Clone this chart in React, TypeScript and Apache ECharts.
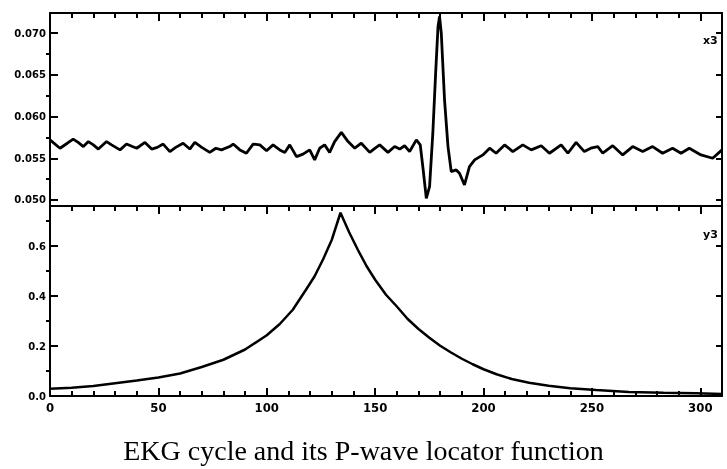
import React, { useEffect, useRef } from "react";
import * as echarts from "echarts";

// EKG cycle (top panel)
const ekgX = [0, 4.6, 8, 10.7, 13, 15.4, 17.7, 20, 22.3, 26.1, 28.4, 32.3, 35.3, 38, 40, 43.8, 46.9, 49.5, 52.2, 55.3, 58, 61.4, 64.5, 66.8, 70, 73.7, 76.5, 79.1, 82.9, 84.5, 87.6, 90.6, 93.7, 96.8, 99.9, 102.9, 106, 108.3, 110.6, 113.7, 116.7, 119.8, 122.1, 124.4, 126.7, 129, 131.3, 134.4, 137.5, 140.6, 143.6, 147.5, 150, 152.1, 155.9, 159, 161.3, 163.6, 165.9, 169, 170.8, 172.2, 173.6, 175.1, 176.6, 177.9, 179, 179.7, 180.5, 182, 183.6, 185.1, 187.4, 188.9, 191.2, 193.5, 195.9, 199.7, 202.8, 205.8, 209.7, 213.5, 218.1, 222, 226.6, 230.4, 235.8, 238.9, 242.7, 246.5, 249.5, 252.7, 255, 259.6, 264.2, 268.8, 273.4, 278, 282.6, 287.2, 291.1, 294.9, 300.3, 305.7, 310];
const ekgY = [0.0572, 0.0562, 0.0568, 0.0573, 0.0569, 0.0564, 0.057, 0.0566, 0.0561, 0.057, 0.0566, 0.056, 0.0567, 0.0564, 0.0562, 0.0569, 0.0561, 0.0563, 0.0567, 0.0558, 0.0563, 0.0568, 0.0561, 0.0569, 0.0563, 0.0557, 0.0562, 0.056, 0.0564, 0.0567, 0.056, 0.0556, 0.0567, 0.0566, 0.0559, 0.0566, 0.056, 0.0557, 0.0566, 0.0552, 0.0555, 0.056, 0.0548, 0.0562, 0.0566, 0.0557, 0.057, 0.0581, 0.057, 0.0562, 0.0568, 0.0557, 0.0562, 0.0566, 0.0557, 0.0564, 0.0561, 0.0565, 0.0558, 0.0572, 0.0566, 0.0535, 0.0502, 0.0516, 0.058, 0.0652, 0.0708, 0.072, 0.07, 0.062, 0.0564, 0.0534, 0.0536, 0.0532, 0.0518, 0.054, 0.0548, 0.0554, 0.0562, 0.0556, 0.0566, 0.0558, 0.0566, 0.056, 0.0565, 0.0556, 0.0566, 0.0556, 0.0569, 0.0558, 0.0562, 0.0564, 0.0556, 0.0565, 0.0554, 0.0564, 0.0558, 0.0564, 0.0556, 0.0562, 0.0556, 0.0562, 0.0554, 0.055, 0.056];

// P-wave locator function (bottom panel)
const locX = [0, 10, 20, 30, 40, 50, 60, 70, 80, 90, 100, 106, 112, 118, 122, 126, 130, 134, 138, 142, 146, 150, 155, 160, 165, 170, 175, 180, 185, 190, 195, 200, 206, 213, 221, 230, 240, 252, 267, 283, 298, 310];
const locY = [0.029, 0.033, 0.04, 0.051, 0.062, 0.074, 0.09, 0.116, 0.145, 0.186, 0.243, 0.288, 0.345, 0.424, 0.478, 0.547, 0.625, 0.733, 0.655, 0.585, 0.52, 0.465, 0.405, 0.358, 0.308, 0.268, 0.233, 0.201, 0.174, 0.149, 0.127, 0.107, 0.087, 0.068, 0.053, 0.041, 0.031, 0.024, 0.016, 0.013, 0.011, 0.008];

const xTickLabels = [0, 50, 100, 150, 200, 250, 300];
const topTicks = [0.05, 0.055, 0.06, 0.065, 0.07];
const topMinorTicks = [0.0525, 0.0575, 0.0625, 0.0675];
const bottomTicks = [0, 0.2, 0.4, 0.6];
const bottomMinorTicks = [0.1, 0.3, 0.5, 0.7];
const title = "EKG cycle and its P-wave locator function";
const topScaleNote = "x3";
const bottomScaleNote = "y3";

const X_MIN = 0;
const X_MAX = 310;

export default function App() {
  const ref = useRef<HTMLDivElement>(null);
  useEffect(() => {
    if (!ref.current) return;
    const chart = echarts.init(ref.current, null, { renderer: "svg" });
    const black = "#000";
    const yLabelFont = {
      fontFamily: "'DejaVu Sans', sans-serif",
      fontWeight: "bold" as const,
      fontSize: 10,
      color: black,
    };
    const xLabelFont = {
      fontFamily: "'Liberation Sans Narrow', 'DejaVu Sans Condensed', sans-serif",
      fontWeight: "bold" as const,
      fontSize: 13,
      color: black,
    };
    const noSplit = { splitLine: { show: false }, minorSplitLine: { show: false } };
    const tickStyle = { color: black, width: 2 };
    const option: any = {
      animation: false,
      title: {
        text: title,
        left: "center",
        top: 431,
        textStyle: {
          fontFamily: "'Liberation Serif', 'Times New Roman', serif",
          fontWeight: "normal",
          fontSize: 28,
          color: black,
        },
      },
      grid: [
        { left: 50, right: 5, top: 13, height: 193 },
        { left: 50, right: 5, top: 206, height: 190 },
      ],
      xAxis: [
        {
          type: "value", gridIndex: 0, position: "top", min: X_MIN, max: X_MAX, interval: 50,
          axisLine: { show: true, onZero: false, lineStyle: { color: black, width: 2 } },
          axisTick: { show: true, inside: true, length: 8, lineStyle: tickStyle },
          minorTick: { show: true, splitNumber: 5, length: 5, lineStyle: tickStyle },
          axisLabel: { show: false },
          ...noSplit,
        },
        {
          type: "value", gridIndex: 0, min: X_MIN, max: X_MAX, interval: 50,
          axisLine: { show: true, onZero: false, lineStyle: { color: black, width: 2 } },
          axisTick: { show: false },
          axisLabel: { show: false },
          ...noSplit,
        },
        {
          type: "value", gridIndex: 1, min: X_MIN, max: X_MAX, interval: 50,
          axisLine: { show: true, lineStyle: { color: black, width: 2 } },
          axisTick: { show: true, inside: true, length: 8, lineStyle: tickStyle },
          minorTick: { show: true, splitNumber: 5, length: 5, lineStyle: tickStyle },
          axisLabel: { show: true, margin: 5, customValues: xTickLabels, ...xLabelFont },
          ...noSplit,
        },
        {
          type: "value", gridIndex: 1, position: "top", min: X_MIN, max: X_MAX, interval: 50,
          axisLine: { show: true, onZero: false, lineStyle: { color: black, width: 2 } },
          axisTick: { show: true, inside: true, length: 8, lineStyle: tickStyle },
          minorTick: { show: true, splitNumber: 5, length: 5, lineStyle: tickStyle },
          axisLabel: { show: false },
          ...noSplit,
        },
      ],
      yAxis: [
        {
          type: "value", gridIndex: 0, min: 0.04928, max: 0.0724,
          axisLine: { show: true, lineStyle: { color: black, width: 2 } },
          axisTick: { show: true, inside: true, length: 8, customValues: topTicks, lineStyle: tickStyle },
          axisLabel: { show: true, margin: 4, customValues: topTicks, formatter: (v: number) => v.toFixed(3), ...yLabelFont },
          ...noSplit,
        },
        {
          type: "value", gridIndex: 0, min: 0.04928, max: 0.0724,
          axisLine: { show: false },
          axisTick: { show: true, inside: true, length: 4, customValues: topMinorTicks, lineStyle: tickStyle },
          axisLabel: { show: false },
          ...noSplit,
        },
        {
          type: "value", gridIndex: 0, position: "right", min: 0.04928, max: 0.0724,
          axisLine: { show: true, lineStyle: { color: black, width: 2 } },
          axisTick: { show: true, inside: true, length: 6, customValues: topTicks, lineStyle: tickStyle },
          axisLabel: { show: false, customValues: topTicks },
          ...noSplit,
        },
        {
          type: "value", gridIndex: 1, min: 0, max: 0.76,
          axisLine: { show: true, lineStyle: { color: black, width: 2 } },
          axisTick: { show: true, inside: true, length: 8, customValues: bottomTicks, lineStyle: tickStyle },
          axisLabel: { customValues: bottomTicks, margin: 4, formatter: (v: number) => v.toFixed(1), ...yLabelFont },
          ...noSplit,
        },
        {
          type: "value", gridIndex: 1, min: 0, max: 0.76,
          axisLine: { show: false },
          axisTick: { show: true, inside: true, length: 4, customValues: bottomMinorTicks, lineStyle: tickStyle },
          axisLabel: { show: false },
          ...noSplit,
        },
        {
          type: "value", gridIndex: 1, position: "right", min: 0, max: 0.76,
          axisLine: { show: true, lineStyle: { color: black, width: 2 } },
          axisTick: { show: true, inside: true, length: 6, customValues: bottomTicks, lineStyle: tickStyle },
          axisLabel: { show: false, customValues: bottomTicks },
          ...noSplit,
        },
      ],
      graphic: [
        { type: "text", left: 703, top: 35, style: { text: topScaleNote, fontFamily: "'DejaVu Sans', sans-serif", fontWeight: "bold", fontSize: 11, fill: black } },
        { type: "text", left: 703, top: 229, style: { text: bottomScaleNote, fontFamily: "'DejaVu Sans', sans-serif", fontWeight: "bold", fontSize: 11, fill: black } },
      ],
      series: [
        {
          type: "line",
          xAxisIndex: 0,
          yAxisIndex: 0,
          data: ekgX.map((x, i) => [x, ekgY[i]]),
          showSymbol: false,
          lineStyle: { color: black, width: 2.8 },
        },
        {
          type: "line",
          xAxisIndex: 2,
          yAxisIndex: 3,
          data: locX.map((x, i) => [x, locY[i]]),
          showSymbol: false,
          lineStyle: { color: black, width: 2.5 },
        },
      ],
    };
    chart.setOption(option);
    return () => chart.dispose();
  }, []);
  return <div ref={ref} style={{ position: "fixed", left: 0, top: 0, width: 727, height: 469 }} />;
}
